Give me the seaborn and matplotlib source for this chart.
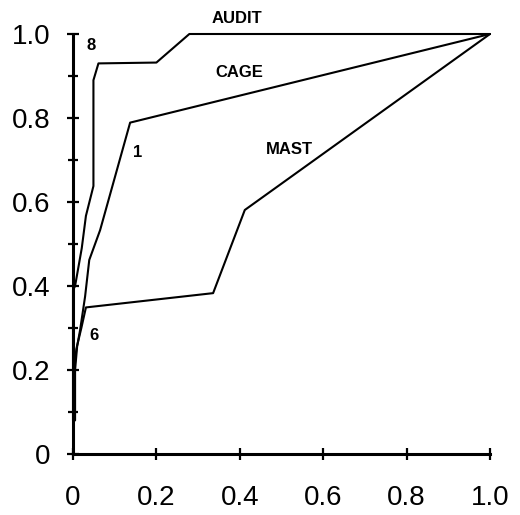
import numpy as np
import pandas as pd
import matplotlib
matplotlib.use("Agg")
import matplotlib.pyplot as plt
import seaborn as sns

# ROC curves (1 - specificity, sensitivity)
audit_x = [0.0, 0.0, 0.005, 0.021, 0.031, 0.049, 0.049, 0.061, 0.200, 0.279, 1.0]
audit_y = [0.08, 0.39, 0.40, 0.49, 0.567, 0.638, 0.89, 0.93, 0.932, 1.0, 1.0]

cage_x = [0.005, 0.005, 0.010, 0.017, 0.029, 0.039, 0.065, 0.137, 1.0]
cage_y = [0.08, 0.20, 0.257, 0.295, 0.375, 0.462, 0.533, 0.789, 1.0]

mast_x = [0.0, 0.003, 0.008, 0.020, 0.031, 0.336, 0.412, 1.0]
mast_y = [0.0, 0.20, 0.25, 0.30, 0.349, 0.383, 0.581, 1.0]

series_names = ["AUDIT", "CAGE", "MAST"]
curve_labels = ["AUDIT", "CAGE", "MAST"]
cutoff_labels = ["8", "1", "6"]

x_ticks = [0, 0.2, 0.4, 0.6, 0.8, 1.0]
x_ticklabels = ["0", "0.2", "0.4", "0.6", "0.8", "1.0"]
y_ticks = [0, 0.2, 0.4, 0.6, 0.8, 1.0]
y_ticklabels = ["0", "0.2", "0.4", "0.6", "0.8", "1.0"]
y_minor = [0.1, 0.3, 0.5, 0.7, 0.9]

sns.set_style("ticks")
plt.rcParams["font.family"] = ["Liberation Sans", "DejaVu Sans"]
plt.rcParams["text.color"] = "black"

fig = plt.figure(figsize=(5.2, 5.15), dpi=100)
ax = fig.add_axes([73/520, 1 - 454/515, (490-73)/520, (454-34)/515])

frames = []
for name, xs, ys in zip(series_names, [audit_x, cage_x, mast_x], [audit_y, cage_y, mast_y]):
    frames.append(pd.DataFrame({"fpr": xs, "tpr": ys, "test": name, "order": range(len(xs))}))
df = pd.concat(frames, ignore_index=True)

for name in series_names:
    sub = df[df["test"] == name]
    sns.lineplot(data=sub, x="fpr", y="tpr", sort=False, estimator=None,
                 color="black", linewidth=1.5, ax=ax, clip_on=False)

ax.set_xlim(0, 1)
ax.set_ylim(0, 1)
ax.set_xlabel("")
ax.set_ylabel("")
ax.set_xticks(x_ticks)
ax.set_xticklabels(x_ticklabels)
ax.set_yticks(y_ticks)
ax.set_yticklabels(y_ticklabels)
ax.set_yticks(y_minor, minor=True)

for s in ["top", "right"]:
    ax.spines[s].set_visible(False)
for s in ["left", "bottom"]:
    ax.spines[s].set_linewidth(2.2)
    ax.spines[s].set_color("black")

ax.tick_params(axis="both", which="major", direction="inout", length=9, width=1.6,
               colors="black", labelcolor="black", labelsize=20)
ax.tick_params(axis="y", which="minor", direction="inout", length=7, width=1.6, colors="black")
ax.tick_params(axis="x", which="major", pad=18)
ax.tick_params(axis="y", which="major", pad=12)

# curve name annotations
name_pos = [(0.393, 1.038), (0.40, 0.909), (0.52, 0.724)]
for lab, (tx, ty) in zip(curve_labels, name_pos):
    ax.text(tx, ty, lab, fontsize=12, fontweight="bold", ha="center", va="center",
            color="black", clip_on=False)

cut_pos = [(0.043, 0.972), (0.155, 0.719), (0.05, 0.281)]
for lab, (tx, ty) in zip(cutoff_labels, cut_pos):
    ax.text(tx, ty, lab, fontsize=12, fontweight="bold", ha="center", va="center",
            color="black", clip_on=False)

fig.savefig("out.png", dpi=100)
